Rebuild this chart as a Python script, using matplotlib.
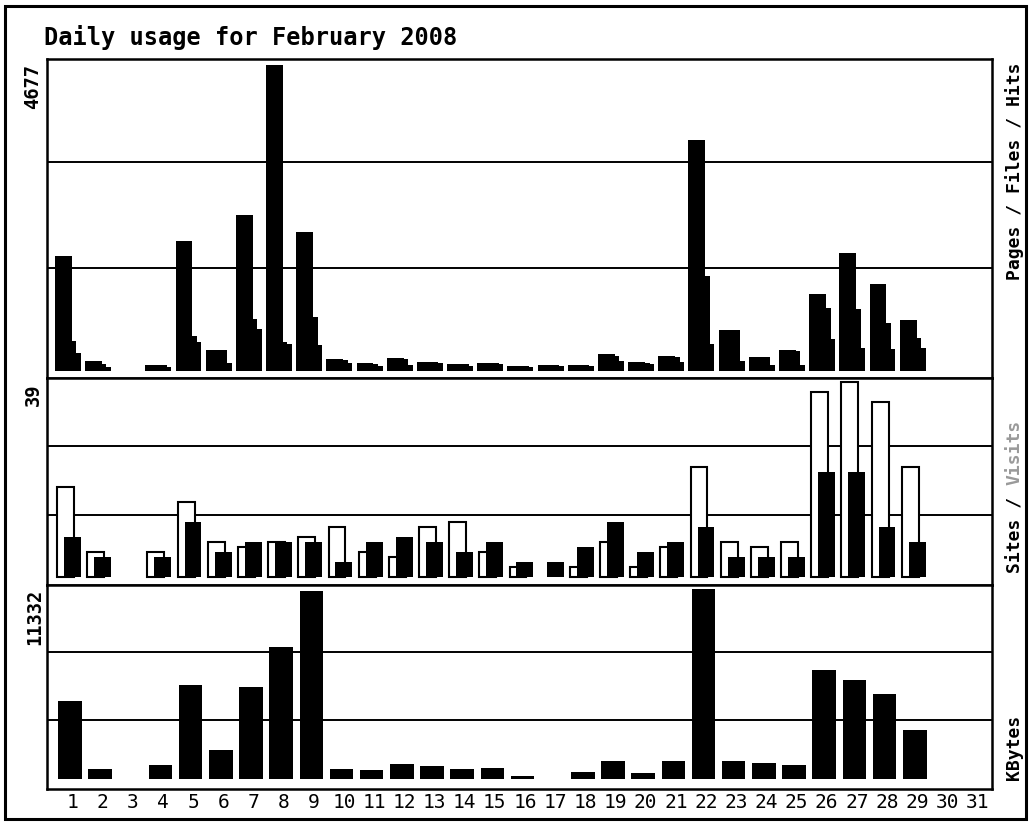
# Daily usage chart (webalizer style, scanned look) rebuilt with matplotlib
import numpy as np
import matplotlib
matplotlib.use("Agg")
import matplotlib.pyplot as plt
from matplotlib.patches import Rectangle

# ============================================
# Data
days = np.arange(1, 32)
day_labels = [str(d) for d in days]

hits = [1757, 150, 0, 92, 1990, 325, 2384, 4677, 2128, 185, 125, 195, 140, 105, 125, 76,
        90, 90, 255, 133, 230, 3530, 625, 215, 315, 1180, 1805, 1330, 775, 0, 0]
files = [464, 100, 0, 85, 540, 325, 795, 440, 825, 170, 110, 180, 130, 100, 120, 70,
         85, 85, 230, 125, 210, 1450, 625, 210, 310, 965, 945, 735, 505, 0, 0]
pages = [275, 60, 0, 60, 450, 120, 640, 420, 400, 120, 70, 90, 115, 80, 100, 60,
         70, 70, 150, 100, 140, 410, 150, 90, 90, 490, 355, 335, 350, 0, 0]

visits = [18, 5, 0, 5, 15, 7, 6, 7, 8, 10, 5, 4, 10, 11, 5, 2,
          0, 2, 7, 2, 6, 22, 7, 6, 7, 37, 39, 35, 22, 0, 0]
sites = [8, 4, 0, 4, 11, 5, 7, 7, 7, 3, 7, 8, 7, 5, 7, 3,
         3, 6, 11, 5, 7, 10, 4, 4, 4, 21, 21, 10, 7, 0, 0]

kbytes = [4710, 655, 0, 835, 5625, 1730, 5525, 7890, 11230, 655, 560, 935, 800, 600, 700, 215,
          0, 455, 1090, 360, 1090, 11332, 1110, 990, 890, 6555, 5960, 5085, 2980, 0, 0]

max_hits = max(hits)
max_visits = max(visits)
max_kbytes = max(kbytes)
# ============================================

W, H = 1031, 829
FONT = "DejaVu Sans Mono"


def fx(x):
    return x / W


def fy(y):
    return 1 - y / H


def panel(top, bottom, left=47, right=992):
    return [fx(left), fy(bottom), fx(right) - fx(left), (bottom - top) / H]


def nonzero(vals):
    v = np.asarray(vals, dtype=float)
    keep = v > 0
    return days[keep], v[keep]


fig = plt.figure(figsize=(W / 100, H / 100), dpi=100)
fig.patch.set_facecolor("white")

# outer frame
fig.patches.append(Rectangle((fx(5), fy(820)), fx(1026) - fx(5), (820 - 7) / H,
                             transform=fig.transFigure, fill=False,
                             edgecolor="black", linewidth=2.2))

ax1 = fig.add_axes(panel(60, 379))
ax2 = fig.add_axes(panel(379, 586))
ax3 = fig.add_axes(panel(586, 790))

for ax, grid in ((ax1, (0.345, 0.677)), (ax2, (0.338, 0.671)), (ax3, (0.338, 0.671))):
    ax.set_xlim(0.24, 31.56)
    ax.set_xticks([])
    ax.set_yticks([])
    ax.set_facecolor("white")
    for s in ax.spines.values():
        s.set_linewidth(1.8)
    for g in grid:
        ax.plot([0, 1], [g, g], transform=ax.transAxes, color="black", lw=1.4, zorder=1)

# Pages / Files / Hits
ax1.set_ylim(-107, 4767)
x, v = nonzero(hits)
ax1.bar(x - 0.22, v, width=0.56, color="black", zorder=2)
x, v = nonzero(files)
ax1.bar(x - 0.07, v, width=0.56, color="black", zorder=3)
x, v = nonzero(pages)
ax1.bar(x + 0.08, v, width=0.56, color="black", zorder=4)

# Sites / Visits
ax2.set_ylim(-1.6, 39.8)
x, v = nonzero(visits)
ax2.bar(x - 0.15, v, width=0.56, color="white", edgecolor="black",
        linewidth=1.5, zorder=2)
x, v = nonzero(sites)
ax2.bar(x + 0.08, v, width=0.56, color="black", zorder=3)

# KBytes
ax3.set_ylim(-567, 11600)
x, v = nonzero(kbytes)
ax3.bar(x, v, width=0.78, color="black", zorder=2)

# day labels under the bottom panel
for d, lab in zip(days, day_labels):
    ax3.text(d + 0.08, -0.06, lab, transform=ax3.get_xaxis_transform(),
             ha="center", va="center", fontsize=14, family=FONT)

# title
fig.text(fx(44), fy(45), "Daily usage for February 2008", ha="left", va="baseline",
         fontsize=17, fontweight="bold", family=FONT)

# maxima on the left
fig.text(fx(33), fy(64), str(max_hits), rotation=90, ha="center", va="top",
         fontsize=13.5, fontweight="bold", family=FONT)
fig.text(fx(33), fy(384), str(max_visits), rotation=90, ha="center", va="top",
         fontsize=13.5, fontweight="bold", family=FONT)
fig.text(fx(35), fy(589), str(max_kbytes), rotation=90, ha="center", va="top",
         fontsize=13.5, fontweight="bold", family=FONT)

# legends on the right
fig.text(fx(1015), fy(63), "Pages / Files / Hits", rotation=90, ha="center", va="top",
         fontsize=13, fontweight="bold", family=FONT)
fig.text(fx(1015), fy(573), "Sites /", rotation=90, ha="center", va="bottom",
         fontsize=13, fontweight="bold", family=FONT)
fig.text(fx(1015), fy(420), "Visits", rotation=90, ha="center", va="top",
         fontsize=13, fontweight="bold", family=FONT, color="#9a9a9a")
fig.text(fx(1014), fy(780), "KBytes", rotation=90, ha="center", va="bottom",
         fontsize=13, fontweight="bold", family=FONT)

fig.savefig("out.png", dpi=100)
